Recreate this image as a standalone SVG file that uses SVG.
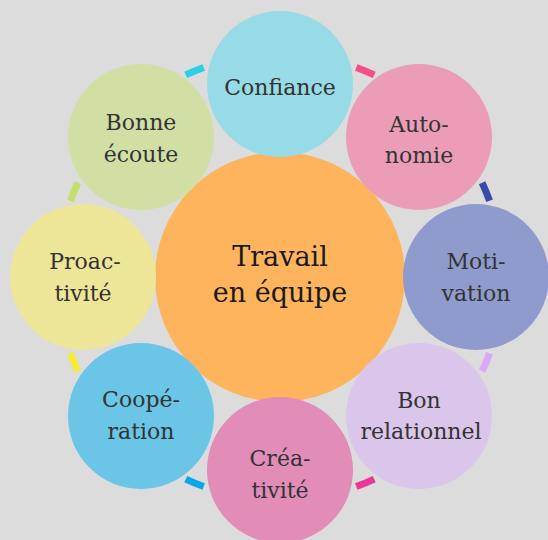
<svg xmlns="http://www.w3.org/2000/svg" width="548" height="540" viewBox="0 0 548 540">
<style>
.t{font-family:"DejaVu Serif","Liberation Serif",serif;font-size:22px;fill:#333;text-anchor:middle}
.c{font-family:"DejaVu Serif","Liberation Serif",serif;font-size:27px;fill:#1a1a1a;text-anchor:middle}
.a{fill:none;stroke-width:7}
</style>
<rect width="548" height="540" fill="#dcdcdc"/>
<g id="center"><circle cx="280" cy="277" r="125" fill="#fdb45c"/>
<text class="c" x="280" y="266">Travail</text><text class="c" x="280" y="302">en équipe</text></g>
<g id="confiance"><circle cx="280" cy="84" r="73" fill="#96dbe5"/><text class="t" x="280" y="95">Confiance</text></g>
<g id="autonomie"><circle cx="419" cy="137" r="73" fill="#eb9db8"/><text class="t" x="419" y="132">Auto-</text><text class="t" x="419" y="163">nomie</text></g>
<g id="motivation"><circle cx="476" cy="277" r="73" fill="#8f9bcc"/><text class="t" x="476" y="269">Moti-</text><text class="t" x="476" y="301">vation</text></g>
<g id="bonrelationnel"><circle cx="419" cy="416" r="73" fill="#dbc6eb"/><text class="t" x="419" y="408">Bon</text><text class="t" x="421" y="439">relationnel</text></g>
<g id="creativite"><circle cx="280" cy="470" r="73" fill="#e28cb8"/><text class="t" x="280" y="466">Créa-</text><text class="t" x="280" y="498">tivité</text></g>
<g id="cooperation"><circle cx="141" cy="416" r="73" fill="#6bc5e6"/><text class="t" x="141" y="407">Coopé-</text><text class="t" x="141" y="439">ration</text></g>
<g id="proactivite"><circle cx="83" cy="277" r="73" fill="#ede598"/><text class="t" x="85" y="269">Proac-</text><text class="t" x="83" y="301">tivité</text></g>
<g id="bonneecoute"><circle cx="141" cy="137" r="73" fill="#d1dfa5"/><text class="t" x="141" y="130">Bonne</text><text class="t" x="141" y="162">écoute</text></g>
<g id="connectors">
<path class="a" stroke="#2ccfe8" d="M185.76 74.9 A223 223 0 0 1 203.73 67.45"/>
<path class="a" stroke="#f54d8b" d="M356.27 67.45 A223 223 0 0 1 374.24 74.9"/>
<path class="a" stroke="#3a4aab" d="M482.1 182.76 A223 223 0 0 1 489.55 200.73"/>
<path class="a" stroke="#d9a9f7" d="M489.55 353.27 A223 223 0 0 1 482.1 371.24"/>
<path class="a" stroke="#ec3797" d="M374.24 479.1 A223 223 0 0 1 356.27 486.55"/>
<path class="a" stroke="#06a8e8" d="M203.73 486.55 A223 223 0 0 1 185.76 479.1"/>
<path class="a" stroke="#f6ea3c" d="M77.9 371.24 A223 223 0 0 1 70.45 353.27"/>
<path class="a" stroke="#c4df6a" d="M70.45 200.73 A223 223 0 0 1 77.9 182.76"/>
</g>
</svg>
